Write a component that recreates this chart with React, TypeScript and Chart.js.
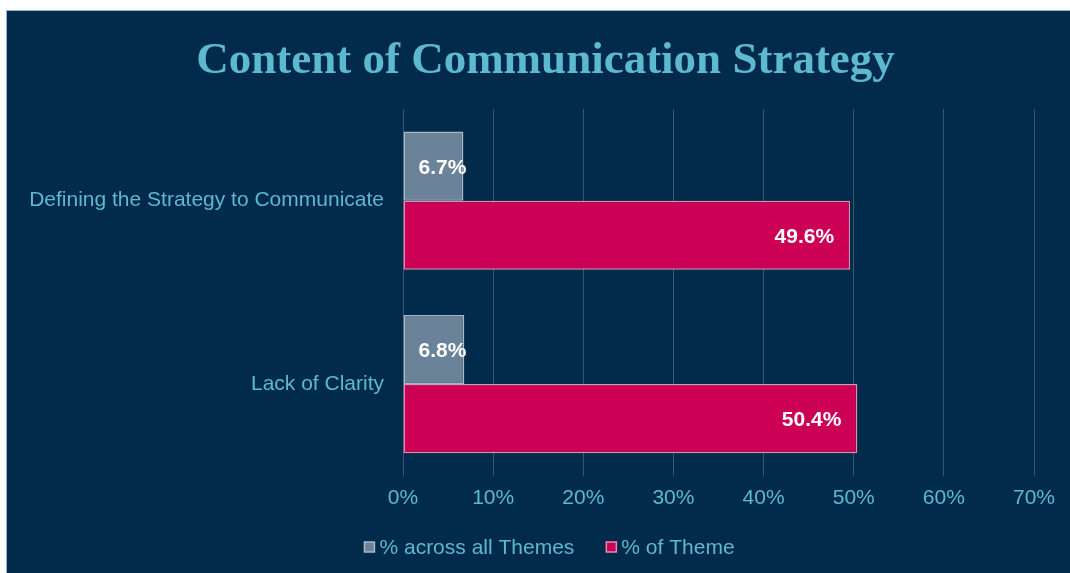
import React, { useEffect, useRef } from "react";
import { Chart, registerables } from "chart.js";

Chart.register(...registerables);

const categories = ["Defining the Strategy to Communicate", "Lack of Clarity"];
const acrossAllThemes = [6.7, 6.8];
const ofTheme = [49.6, 50.4];
const seriesNames = ["% across all Themes", "% of Theme"];
const xMax = 70;
const xStep = 10;

const TEAL = "#5cb9cf";
const BG = "#022a4b";
const SANS = "'Liberation Sans', Arial, sans-serif";

const dataLabelPlugin = {
  id: "dataLabels",
  afterDatasetsDraw(chart: any) {
    const ctx = chart.ctx;
    ctx.save();
    ctx.font = "bold 21px " + SANS;
    ctx.fillStyle = "#ffffff";
    ctx.textBaseline = "middle";
    chart.data.datasets.forEach((ds: any, di: number) => {
      const meta = chart.getDatasetMeta(di);
      meta.data.forEach((bar: any, i: number) => {
        const v = ds.data[i];
        const text = v.toFixed(1) + "%";
        const w = ctx.measureText(text).width;
        const left = Math.min(bar.x, bar.base);
        const right = Math.max(bar.x, bar.base);
        if (right - left - 32 >= w) {
          ctx.textAlign = "right";
          ctx.fillText(text, right - 16, bar.y + 2);
        } else {
          ctx.textAlign = "left";
          ctx.fillText(text, left + 15, bar.y + 2);
        }
      });
    });
    ctx.restore();
  },
};

const customLegendPlugin = {
  id: "customLegend",
  afterDraw(chart: any) {
    const ctx = chart.ctx;
    ctx.save();
    ctx.font = "21px " + SANS;
    ctx.textBaseline = "middle";
    ctx.textAlign = "left";
    const box = 10;
    const gapBoxText = 5;
    const gapItems = 32;
    const items = chart.data.datasets.map((ds: any) => ({
      text: ds.label,
      fill: ds.backgroundColor,
      stroke: ds.borderColor,
      w: ctx.measureText(ds.label).width,
    }));
    const total = items.reduce(
      (s: number, it: any, i: number) => s + box + gapBoxText + it.w + (i > 0 ? gapItems : 0),
      0
    );
    const cy = chart.height - 26;
    let x = chart.width / 2 + 11 - total / 2;
    items.forEach((it: any) => {
      ctx.fillStyle = it.fill;
      ctx.strokeStyle = it.stroke;
      ctx.lineWidth = 1.5;
      ctx.fillRect(x, cy - box / 2, box, box);
      ctx.strokeRect(x, cy - box / 2, box, box);
      x += box + gapBoxText;
      ctx.fillStyle = TEAL;
      ctx.fillText(it.text, x, cy + 1);
      x += it.w + gapItems;
    });
    ctx.restore();
  },
};

export default function App() {
  const canvasRef = useRef<HTMLCanvasElement | null>(null);

  useEffect(() => {
    document.body.style.margin = "0";
    const canvas = canvasRef.current;
    if (!canvas) return;
    const chart = new Chart(canvas, {
      type: "bar",
      data: {
        labels: categories,
        datasets: [
          {
            label: seriesNames[0],
            data: acrossAllThemes,
            backgroundColor: "#6a8398",
            borderColor: "#a9b9c6",
            borderWidth: 1.5,
            borderSkipped: false,
          },
          {
            label: seriesNames[1],
            data: ofTheme,
            backgroundColor: "#cc0055",
            borderColor: "#e58cad",
            borderWidth: 1.5,
            borderSkipped: false,
          },
        ],
      },
      options: {
        indexAxis: "y",
        animation: false,
        responsive: false,
        maintainAspectRatio: false,
        datasets: {
          bar: {
            categoryPercentage: 0.754,
            barPercentage: 1,
          },
        },
        layout: {
          padding: { left: 14, right: 0, top: 0, bottom: 52 },
        },
        plugins: {
          title: {
            display: true,
            text: "Content of Communication Strategy",
            color: TEAL,
            font: { family: "'Liberation Serif', 'Times New Roman', serif", size: 45, weight: "bold" },
            padding: { top: 23, bottom: 21 },
          },
          legend: { display: false },
          tooltip: { enabled: false },
        },
        scales: {
          x: {
            min: 0,
            max: xMax,
            ticks: {
              stepSize: xStep,
              color: TEAL,
              font: { family: SANS, size: 21 },
              padding: 10,
              callback: (v: any) => v + "%",
            },
            grid: {
              color: "#37576f",
              lineWidth: 1,
              drawTicks: false,
            },
            border: { display: false },
            afterFit(scale: any) {
              scale.paddingRight = 36;
            },
          },
          y: {
            ticks: {
              color: TEAL,
              font: { family: SANS, size: 21 },
              padding: 19,
            },
            grid: { display: false, drawTicks: false },
            border: { display: false },
            afterFit(scale: any) {
              scale.width = 382;
            },
          },
        },
      },
      plugins: [dataLabelPlugin, customLegendPlugin],
    });
    return () => chart.destroy();
  }, []);

  return (
    <div
      style={{
        position: "absolute",
        left: 6,
        top: 10,
        width: 1063,
        height: 562,
        background: BG,
        borderLeft: "1px solid #8fb6d8",
        borderTop: "1px solid #8fb6d8",
      }}
    >
      <canvas ref={canvasRef} width={1063} height={562} style={{ display: "block" }} />
    </div>
  );
}
